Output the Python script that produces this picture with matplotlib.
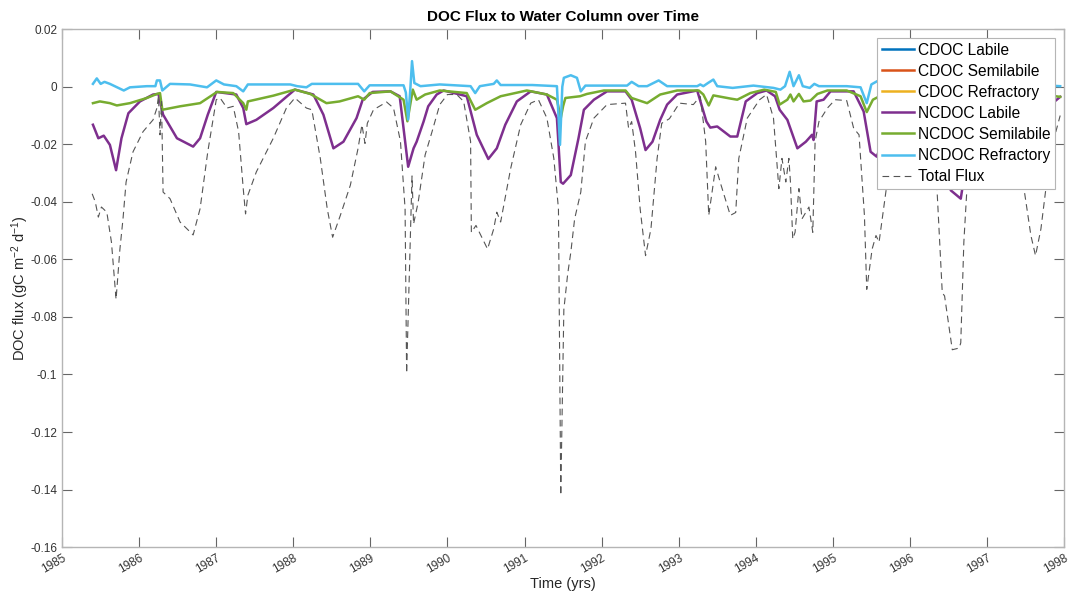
import matplotlib
matplotlib.use("Agg")
import matplotlib.pyplot as plt
from matplotlib.ticker import FormatStrFormatter

plt.rcParams["font.family"] = ["Liberation Sans", "DejaVu Sans"]
plt.rcParams["axes.unicode_minus"] = False
plt.rcParams["mathtext.default"] = "regular"

# decimal years / flux values (gC m-2 d-1)
t_refr = [1985.40, 1985.45, 1985.50, 1985.55, 1985.62, 1985.80, 1985.88, 1986.10,
          1986.21, 1986.23, 1986.27, 1986.30, 1986.40, 1986.66, 1986.88, 1987.00,
          1987.10, 1987.26, 1987.35, 1987.41, 1987.96, 1988.05, 1988.17, 1988.24,
          1988.84, 1988.92, 1988.99, 1989.43, 1989.46, 1989.49, 1989.52, 1989.54,
          1989.57, 1989.65, 1989.90, 1990.30, 1990.36, 1990.42, 1990.60, 1990.64,
          1990.69, 1991.10, 1991.42, 1991.46, 1991.49, 1991.51, 1991.60, 1991.68,
          1991.73, 1991.79, 1992.33, 1992.39, 1992.48, 1992.59, 1992.74, 1992.85,
          1993.24, 1993.28, 1993.32, 1993.38, 1993.45, 1993.50, 1993.70, 1993.97,
          1994.23, 1994.32, 1994.38, 1994.44, 1994.49, 1994.56, 1994.61, 1994.70,
          1994.76, 1994.82, 1995.18, 1995.36, 1995.44, 1995.50, 1995.58, 1995.70,
          1996.00, 1996.50, 1996.60, 1996.70, 1997.30, 1997.60, 1997.75, 1997.95]
ncdoc_refr = [0.0010, 0.0029, 0.0010, 0.0017, 0.0010, -0.0013, -0.0002, 0.0002,
              0.0002, 0.0022, 0.0022, -0.0013, 0.0010, 0.0008, -0.0002, 0.0022,
              0.0008, 0.0002, -0.0016, 0.0008, 0.0008, 0.0002, -0.0002, 0.0010,
              0.0010, -0.0016, 0.0005, 0.0005, -0.0020, -0.0114, 0.0000, 0.0089,
              0.0013, 0.0002, 0.0008, 0.0002, -0.0022, 0.0002, 0.0010, 0.0022,
              0.0006, 0.0006, 0.0002, -0.0202, 0.0000, 0.0031, 0.0040, 0.0031,
              -0.0016, 0.0004, 0.0004, 0.0017, 0.0002, 0.0002, 0.0022, 0.0002,
              0.0002, 0.0008, 0.0002, 0.0013, 0.0025, 0.0002, -0.0004, 0.0004,
              -0.0004, -0.0010, 0.0002, 0.0052, 0.0002, 0.0040, 0.0002, -0.0004,
              0.0010, 0.0002, 0.0002, -0.0002, -0.0057, 0.0008, 0.0020, 0.0005,
              0.0005, 0.0000, -0.0010, 0.0005, 0.0005, -0.0010, 0.0005, 0.0002]

t_semi = [1985.40, 1985.49, 1985.62, 1985.71, 1985.88, 1986.10, 1986.23, 1986.27,
          1986.30, 1986.53, 1986.79, 1987.01, 1987.22, 1987.35, 1987.39, 1987.41,
          1987.74, 1988.02, 1988.22, 1988.43, 1988.60, 1988.84, 1988.92, 1988.99,
          1989.26, 1989.43, 1989.48, 1989.55, 1989.60, 1989.71, 1989.90, 1990.25,
          1990.36, 1990.51, 1990.69, 1991.03, 1991.29, 1991.42, 1991.47, 1991.50,
          1991.53, 1991.72, 1991.81, 1992.03, 1992.31, 1992.39, 1992.59, 1992.76,
          1992.98, 1993.26, 1993.32, 1993.39, 1993.45, 1993.67, 1993.76, 1993.93,
          1994.11, 1994.26, 1994.31, 1994.41, 1994.45, 1994.49, 1994.56, 1994.62,
          1994.71, 1994.80, 1994.93, 1995.18, 1995.36, 1995.44, 1995.52, 1995.70,
          1996.00, 1996.40, 1996.60, 1996.75, 1997.30, 1997.60, 1997.80, 1997.95]
ncdoc_semi = [-0.0057, -0.0051, -0.0057, -0.0065, -0.0057, -0.0039, -0.0025, -0.0022,
              -0.0080, -0.0068, -0.0057, -0.0018, -0.0022, -0.0057, -0.0080, -0.0051,
              -0.0031, -0.0010, -0.0025, -0.0057, -0.0051, -0.0033, -0.0045, -0.0022,
              -0.0016, -0.0045, -0.0120, -0.0010, -0.0045, -0.0027, -0.0013, -0.0022,
              -0.0080, -0.0057, -0.0033, -0.0013, -0.0027, -0.0045, -0.0109, -0.0068,
              -0.0039, -0.0033, -0.0025, -0.0013, -0.0013, -0.0039, -0.0057, -0.0027,
              -0.0013, -0.0013, -0.0027, -0.0065, -0.0030, -0.0041, -0.0045, -0.0022,
              -0.0010, -0.0018, -0.0062, -0.0045, -0.0027, -0.0051, -0.0025, -0.0051,
              -0.0048, -0.0025, -0.0013, -0.0013, -0.0033, -0.0088, -0.0045, -0.0020,
              -0.0015, -0.0020, -0.0050, -0.0020, -0.0015, -0.0050, -0.0030, -0.0035]

t_lab = [1985.40, 1985.47, 1985.54, 1985.62, 1985.70, 1985.77, 1985.86, 1986.01,
         1986.18, 1986.25, 1986.31, 1986.49, 1986.70, 1986.79, 1986.89, 1987.00,
         1987.26, 1987.35, 1987.39, 1987.52, 1987.74, 1988.02, 1988.26, 1988.39,
         1988.52, 1988.65, 1988.82, 1988.90, 1989.03, 1989.26, 1989.38, 1989.49,
         1989.56, 1989.60, 1989.69, 1989.75, 1989.86, 1989.95, 1990.25, 1990.38,
         1990.53, 1990.64, 1990.75, 1990.90, 1991.08, 1991.29, 1991.42, 1991.47,
         1991.50, 1991.60, 1991.70, 1991.77, 1991.90, 1992.07, 1992.31, 1992.39,
         1992.50, 1992.57, 1992.66, 1992.76, 1992.85, 1992.98, 1993.24, 1993.36,
         1993.41, 1993.50, 1993.67, 1993.76, 1993.87, 1994.02, 1994.14, 1994.25,
         1994.31, 1994.41, 1994.54, 1994.65, 1994.73, 1994.75, 1994.79, 1994.88,
         1994.97, 1995.27, 1995.40, 1995.49, 1995.57, 1995.63, 1995.75, 1995.90,
         1996.30, 1996.40, 1996.53, 1996.66, 1996.68, 1996.75, 1996.90, 1997.40,
         1997.55, 1997.65, 1997.75, 1997.95]
ncdoc_lab = [-0.0132, -0.0179, -0.0170, -0.0202, -0.0290, -0.0179, -0.0092, -0.0051,
             -0.0027, -0.0025, -0.0097, -0.0179, -0.0208, -0.0179, -0.0097, -0.0018,
             -0.0027, -0.0074, -0.0130, -0.0115, -0.0074, -0.0010, -0.0027, -0.0097,
             -0.0214, -0.0191, -0.0109, -0.0045, -0.0018, -0.0016, -0.0033, -0.0278,
             -0.0214, -0.0191, -0.0121, -0.0068, -0.0027, -0.0013, -0.0033, -0.0167,
             -0.0251, -0.0214, -0.0132, -0.0051, -0.0016, -0.0027, -0.0109, -0.0331,
             -0.0337, -0.0307, -0.0179, -0.0080, -0.0045, -0.0016, -0.0016, -0.0045,
             -0.0144, -0.0220, -0.0191, -0.0115, -0.0062, -0.0027, -0.0013, -0.0121,
             -0.0142, -0.0138, -0.0173, -0.0173, -0.0051, -0.0022, -0.0013, -0.0033,
             -0.0080, -0.0115, -0.0214, -0.0191, -0.0167, -0.0185, -0.0051, -0.0045,
             -0.0016, -0.0016, -0.0086, -0.0226, -0.0243, -0.0200, -0.0050, -0.0020,
             -0.0025, -0.0150, -0.0360, -0.0389, -0.0354, -0.0080, -0.0020, -0.0030,
             -0.0150, -0.0200, -0.0080, -0.0035]

t_total = [1985.39, 1985.43, 1985.47, 1985.51, 1985.58, 1985.64, 1985.70, 1985.75,
           1985.79, 1985.83, 1985.92, 1986.05, 1986.18, 1986.23, 1986.25, 1986.27,
           1986.29, 1986.31, 1986.40, 1986.53, 1986.70, 1986.79, 1986.89, 1987.00,
           1987.05, 1987.14, 1987.22, 1987.29, 1987.35, 1987.38, 1987.41, 1987.52,
           1987.74, 1987.91, 1988.02, 1988.17, 1988.24, 1988.35, 1988.44, 1988.51,
           1988.61, 1988.74, 1988.84, 1988.89, 1988.93, 1988.96, 1989.04, 1989.21,
           1989.30, 1989.39, 1989.45, 1989.47, 1989.54, 1989.56, 1989.62, 1989.71,
           1989.80, 1989.90, 1990.00, 1990.12, 1990.21, 1990.30, 1990.31, 1990.37,
           1990.52, 1990.60, 1990.64, 1990.69, 1990.82, 1990.95, 1991.08, 1991.18,
           1991.29, 1991.38, 1991.44, 1991.47, 1991.51, 1991.56, 1991.60, 1991.65,
           1991.73, 1991.79, 1991.90, 1992.07, 1992.31, 1992.35, 1992.39, 1992.44,
           1992.50, 1992.57, 1992.64, 1992.72, 1992.78, 1992.88, 1993.01, 1993.19,
           1993.28, 1993.35, 1993.39, 1993.48, 1993.55, 1993.67, 1993.74, 1993.78,
           1993.89, 1994.05, 1994.14, 1994.23, 1994.30, 1994.34, 1994.39, 1994.43,
           1994.45, 1994.48, 1994.51, 1994.56, 1994.60, 1994.69, 1994.74, 1994.77,
           1994.82, 1994.93, 1995.03, 1995.18, 1995.27, 1995.34, 1995.41, 1995.44,
           1995.51, 1995.56, 1995.60, 1995.70, 1995.80, 1995.95, 1996.20, 1996.30,
           1996.35, 1996.42, 1996.45, 1996.55, 1996.64, 1996.66, 1996.70, 1996.74,
           1996.82, 1997.00, 1997.30, 1997.42, 1997.48, 1997.57, 1997.63, 1997.70,
           1997.77, 1997.85, 1997.95]
total_flux = [-0.0372, -0.0400, -0.0453, -0.0418, -0.0436, -0.0540, -0.0739, -0.0564,
              -0.0459, -0.0331, -0.0226, -0.0156, -0.0115, -0.0074, -0.0033, -0.0167,
              -0.0051, -0.0366, -0.0389, -0.0470, -0.0515, -0.0424, -0.0226, -0.0045,
              -0.0039, -0.0074, -0.0068, -0.0156, -0.0354, -0.0442, -0.0377, -0.0296,
              -0.0179, -0.0074, -0.0039, -0.0074, -0.0080, -0.0249, -0.0424, -0.0523,
              -0.0447, -0.0342, -0.0214, -0.0132, -0.0197, -0.0127, -0.0080, -0.0053,
              -0.0074, -0.0190, -0.0424, -0.0996, -0.0310, -0.0477, -0.0401, -0.0237,
              -0.0156, -0.0062, -0.0027, -0.0027, -0.0051, -0.0190, -0.0506, -0.0482,
              -0.0564, -0.0494, -0.0436, -0.0470, -0.0284, -0.0132, -0.0057, -0.0045,
              -0.0109, -0.0249, -0.0424, -0.1420, -0.0774, -0.0650, -0.0576, -0.0459,
              -0.0366, -0.0190, -0.0109, -0.0062, -0.0057, -0.0144, -0.0121, -0.0226,
              -0.0424, -0.0587, -0.0494, -0.0249, -0.0127, -0.0111, -0.0057, -0.0062,
              -0.0033, -0.0190, -0.0447, -0.0278, -0.0342, -0.0447, -0.0437, -0.0249,
              -0.0109, -0.0045, -0.0027, -0.0109, -0.0354, -0.0249, -0.0331, -0.0249,
              -0.0331, -0.0529, -0.0506, -0.0354, -0.0459, -0.0418, -0.0506, -0.0190,
              -0.0121, -0.0074, -0.0045, -0.0048, -0.0144, -0.0167, -0.0447, -0.0704,
              -0.0564, -0.0517, -0.0540, -0.0342, -0.0100, -0.0050, -0.0060, -0.0200,
              -0.0348, -0.0716, -0.0727, -0.0914, -0.0908, -0.0890, -0.0540, -0.0354,
              -0.0100, -0.0040, -0.0060, -0.0200, -0.0354, -0.0517, -0.0587, -0.0494,
              -0.0342, -0.0200, -0.0100]

# CDOC pools have no visible data in the reference, only legend entries
cdoc_lab = []
cdoc_semi = []
cdoc_refr = []

years = list(range(1985, 1999))
yticks = [0.02, 0, -0.02, -0.04, -0.06, -0.08, -0.1, -0.12, -0.14, -0.16]

fig = plt.figure(figsize=(10.71, 5.96), dpi=100)
ax = fig.add_axes((0.058, 0.082, 0.9355, 0.869))

ax.plot([], cdoc_lab, color="#0072BD", lw=1.8, label="CDOC Labile")
ax.plot([], cdoc_semi, color="#D95319", lw=1.8, label="CDOC Semilabile")
ax.plot([], cdoc_refr, color="#EDB120", lw=1.8, label="CDOC Refractory")
ax.plot(t_lab, ncdoc_lab, color="#7E2F8E", lw=1.8, label="NCDOC Labile")
ax.plot(t_semi, ncdoc_semi, color="#77AC30", lw=1.8, label="NCDOC Semilabile")
ax.plot(t_refr, ncdoc_refr, color="#4DBEEE", lw=1.8, label="NCDOC Refractory")
ax.plot(t_total, total_flux, color="#555555", lw=0.8, dashes=(6, 4),
        label="Total Flux")

ax.set_xlim(1985, 1998)
ax.set_ylim(-0.16, 0.02)
ax.set_xticks(years)
ax.set_yticks(yticks)
ax.yaxis.set_major_formatter(FormatStrFormatter("%g"))
ax.tick_params(direction="in", length=7, width=0.8, color="#666666",
               labelcolor="#333333", labelsize=8.5, top=True, right=True)
plt.setp(ax.get_xticklabels(), rotation=30, ha="right", rotation_mode="anchor")
for s in ax.spines.values():
    s.set_color("#b5b5b5")
    s.set_linewidth(1.0)

ax.set_title("DOC Flux to Water Column over Time", fontsize=11,
             fontweight="bold", pad=6)
ax.set_xlabel("Time (yrs)", fontsize=10.5, color="#262626", labelpad=1)
ax.set_ylabel("DOC flux (gC m$^{-2}$ d$^{-1}$)", fontsize=10.5,
              color="#262626")
ax.yaxis.set_label_coords(-0.031, 0.5)

leg = ax.legend(loc="upper right", bbox_to_anchor=(0.991, 0.983),
                borderaxespad=0, fontsize=11.2, handlelength=2.05,
                handletextpad=0.25, labelspacing=0.39, borderpad=0.3,
                fancybox=False, framealpha=1, edgecolor="#b5b5b5")
leg.get_frame().set_linewidth(0.8)

fig.savefig("out.png", dpi=100)
